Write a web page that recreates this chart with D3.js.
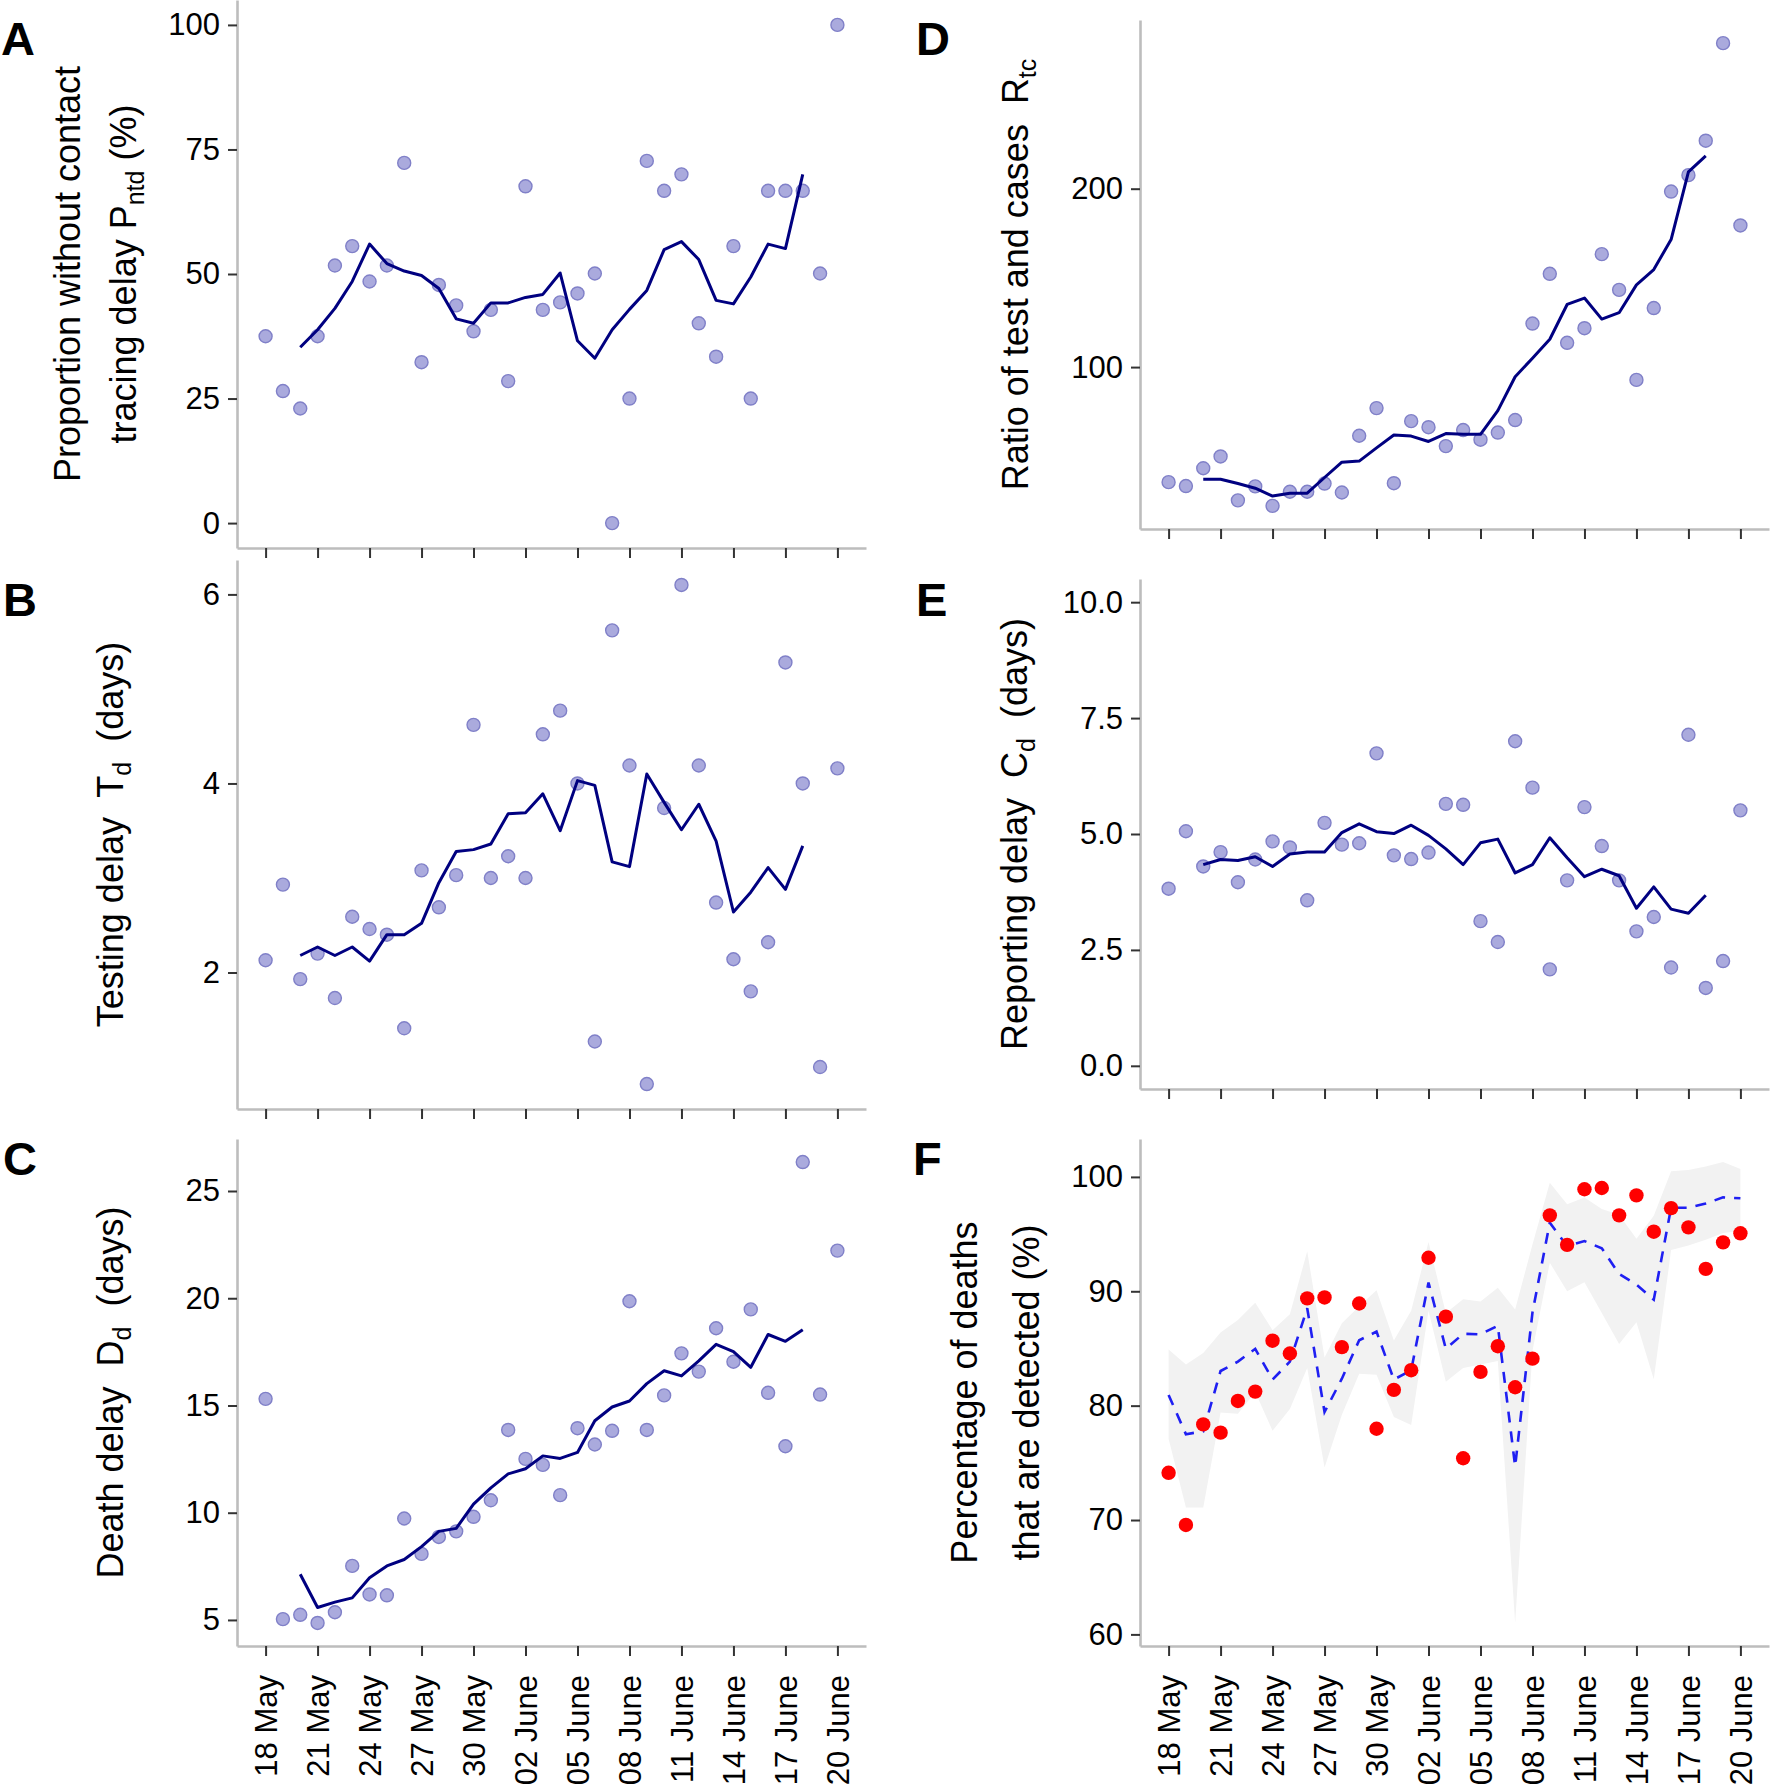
<!DOCTYPE html>
<html>
<head>
<meta charset="utf-8">
<script src="https://cdnjs.cloudflare.com/ajax/libs/d3/7.8.5/d3.min.js"></script>
<style>
body { margin: 0; background: #fff; }
text { font-family: "Liberation Sans", Arial, sans-serif; fill: #000; }
</style>
</head>
<body>
<svg id="fig" width="1770" height="1787"></svg>
<script>
// days shown on every panel, 18 May - 20 June
var days = d3.timeDay.range(new Date(2020, 4, 18), new Date(2020, 5, 21));
// the moving-average lines run 20 May - 18 June
var lineDays = days.slice(2, 32);
var tickDays = days.filter(function(d, i) { return i % 3 === 0; });

// A: proportion without contact tracing delay (%)
var pntdPts = [37.5, 26.5, 23.0, 37.5, 51.7, 55.6, 48.5, 51.7, 72.3, 32.3, 47.8, 43.7, 38.5, 42.8, 28.5, 67.6, 42.8,
    44.3, 46.1, 50.1, 0, 25.0, 72.7, 66.7, 70.0, 40.1, 33.4, 55.6, 25.0, 66.7, 66.7, 66.7, 50.1, 100];
var pntdLine = [35.3, 38.8, 43.1, 48.5, 56.0, 52.1, 50.6, 49.7, 47.1, 41.0, 40.1, 44.2, 44.2, 45.3, 45.9, 50.2, 36.6,
    33.1, 38.8, 42.9, 46.7, 54.9, 56.5, 52.9, 44.7, 44.0, 49.4, 56.0, 55.1, 70.0];
var pntdTicks = [0, 25, 50, 75, 100];

// B: testing delay (days)
var tdPts = [2.13, 2.93, 1.93, 2.20, 1.73, 2.59, 2.46, 2.40, 1.41, 3.08, 2.69, 3.03, 4.62, 3.00, 3.23, 3.00, 4.52,
    4.77, 4.00, 1.27, 5.62, 4.19, 0.82, 3.74, 6.10, 4.19, 2.74, 2.14, 1.80, 2.32, 5.28, 4.00, 1.00, 4.16];
var tdLine = [2.18, 2.27, 2.18, 2.27, 2.12, 2.40, 2.40, 2.52, 2.95, 3.28, 3.30, 3.36, 3.68, 3.69, 3.89, 3.50, 4.03,
    3.98, 3.17, 3.12, 4.10, 3.80, 3.51, 3.78, 3.39, 2.64, 2.85, 3.11, 2.88, 3.34];
var tdTicks = [2, 4, 6];

// C: death delay (days)
var ddPts = [15.31, 5.04, 5.24, 4.86, 5.36, 7.52, 6.19, 6.15, 9.73, 8.08, 8.87, 9.13, 9.81, 10.58, 13.86, 12.51, 12.23,
    10.82, 13.94, 13.18, 13.82, 19.86, 13.86, 15.47, 17.43, 16.58, 18.60, 17.04, 19.48, 15.59, 13.10, 26.35, 15.51, 22.22];
var ddLine = [7.13, 5.58, 5.83, 6.03, 6.97, 7.52, 7.82, 8.42, 9.13, 9.27, 10.40, 11.16, 11.81, 12.05, 12.65, 12.53,
    12.81, 14.29, 14.93, 15.21, 16.02, 16.62, 16.38, 17.08, 17.85, 17.51, 16.78, 18.31, 17.99, 18.53];
var ddTicks = [5, 10, 15, 20, 25];

// D: ratio of tests and cases
var rtcPts = [35.5, 33.3, 43.3, 49.9, 25.3, 33.1, 22.2, 30.1, 30.1, 34.7, 29.7, 61.5, 77.0, 34.9, 69.7, 66.3, 55.7,
    64.7, 59.3, 63.3, 70.3, 124.4, 152.3, 113.6, 121.8, 163.3, 143.3, 92.8, 133.1, 198.4, 207.6, 226.9, 281.6, 179.4];
var rtcLine = [37.1, 37.1, 34.7, 32.1, 27.7, 29.3, 29.3, 38.1, 46.7, 47.3, 54.7, 61.9, 61.3, 58.3, 62.7, 62.3, 62.3,
    75.6, 94.6, 105.0, 115.6, 135.1, 138.7, 126.9, 130.5, 146.1, 154.7, 171.5, 209.4, 218.4];
var rtcTicks = [100, 200];

// E: reporting delay (days)
var cdPts = [3.82, 5.06, 4.30, 4.61, 3.96, 4.45, 4.84, 4.71, 3.57, 5.24, 4.77, 4.80, 6.74, 4.54, 4.46, 4.60, 5.65,
    5.63, 3.12, 2.67, 7.00, 6.00, 2.08, 4.00, 5.58, 4.74, 4.00, 2.90, 3.21, 2.12, 7.14, 1.68, 2.26, 5.51];
var cdLine = [4.34, 4.45, 4.43, 4.51, 4.30, 4.57, 4.61, 4.61, 5.03, 5.22, 5.05, 5.01, 5.19, 4.97, 4.68, 4.34, 4.81,
    4.89, 4.16, 4.34, 4.92, 4.49, 4.08, 4.24, 4.10, 3.40, 3.86, 3.38, 3.29, 3.68];
var cdTicks = [0, 2.5, 5, 7.5, 10];

// F: percentage of deaths detected (%), points, fit and band
var detPts = [74.13, 69.57, 78.36, 77.64, 80.41, 81.23, 85.68, 84.56, 89.38, 89.46, 85.12, 88.93, 77.98, 81.38, 83.10,
    92.93, 87.78, 75.40, 82.95, 85.20, 81.61, 84.11, 96.64, 94.06, 98.92, 99.03, 96.64, 98.39, 95.21, 97.27, 95.59,
    91.96, 94.28, 95.07];
var detFit = [80.93, 77.50, 77.76, 83.03, 83.85, 84.97, 82.28, 83.85, 88.52, 79.44, 82.36, 85.72, 86.47, 82.28, 83.10,
    90.77, 84.97, 86.28, 86.24, 86.99, 74.69, 88.15, 96.00, 93.94, 94.39, 93.76, 91.51, 90.58, 89.27, 97.31, 97.31,
    97.68, 98.21, 98.13];
var detUpper = [84.9, 83.6, 84.6, 86.4, 87.5, 89.0, 86.6, 88.0, 93.5, 84.2, 87.2, 88.7, 90.1, 85.7, 88.3, 94.3, 88.1,
    89.3, 89.1, 90.3, 88.4, 94.1, 99.5, 97.6, 98.2, 97.2, 96.7, 94.6, 96.6, 100.5, 100.6, 100.9, 101.3, 100.7];
var detLower = [77.1, 71.1, 71.1, 79.4, 79.3, 81.2, 77.8, 79.7, 83.3, 74.6, 79.2, 82.8, 82.7, 79.0, 78.3, 88.3, 82.1,
    83.3, 83.6, 83.9, 61.0, 84.8, 92.5, 90.0, 90.8, 88.1, 85.4, 87.3, 82.3, 93.6, 94.0, 94.5, 95.1, 95.3];
var detTicks = [60, 70, 80, 90, 100];

var svg = d3.select("#fig");
var fmtDay = d3.timeFormat("%d %B");

// ggplot style 5% expansion
function expand(lo, hi) {
    var p = (hi - lo) * 0.05;
    return [lo - p, hi + p];
}

var xSpan = expand(+days[0], +days[days.length - 1]);

var panels = [
    {letter: "A", lx: 1, ly: 55, left: 237, right: 866, top: 0, bottom: 548,
        pts: pntdPts, line: pntdLine, ticks: pntdTicks, fmt: d3.format("d"),
        titleX: [80, 136], title: [[["Proportion without contact"]], [["tracing delay P"], ["ntd", 1], [" (%)"]]]},
    {letter: "B", lx: 3, ly: 616, left: 237, right: 866, top: 560, bottom: 1109,
        pts: tdPts, line: tdLine, ticks: tdTicks, fmt: d3.format("d"),
        titleX: [123], title: [[["Testing delay  T"], ["d", 1], ["  (days)"]]]},
    {letter: "C", lx: 3, ly: 1175, left: 237, right: 866, top: 1139, bottom: 1646,
        pts: ddPts, line: ddLine, ticks: ddTicks, fmt: d3.format("d"), xlabels: true,
        titleX: [123], title: [[["Death delay  D"], ["d", 1], ["  (days)"]]]},
    {letter: "D", lx: 916, ly: 55, left: 1140, right: 1769, top: 20, bottom: 529,
        pts: rtcPts, line: rtcLine, ticks: rtcTicks, fmt: d3.format("d"),
        titleX: [1028], title: [[["Ratio of test and cases  R"], ["tc", 1]]]},
    {letter: "E", lx: 916, ly: 616, left: 1140, right: 1769, top: 579, bottom: 1089,
        pts: cdPts, line: cdLine, ticks: cdTicks, fmt: d3.format(".1f"), limits: [0, 10],
        titleX: [1027], title: [[["Reporting delay  C"], ["d", 1], ["  (days)"]]]},
    {letter: "F", lx: 913, ly: 1175, left: 1140, right: 1769, top: 1139, bottom: 1646,
        pts: detPts, fit: detFit, upper: detUpper, lower: detLower, ticks: detTicks, fmt: d3.format("d"), xlabels: true,
        titleX: [977, 1039], title: [[["Percentage of deaths"]], [["that are detected (%)"]]]}
];

panels.forEach(function(p) {
    var x = d3.scaleTime().domain(xSpan).range([p.left, p.right]);

    var all = p.pts.concat(p.line || [], p.upper || [], p.lower || [], p.fit || []);
    var lim = p.limits || d3.extent(all);
    var y = d3.scaleLinear().domain(expand(lim[0], lim[1])).range([p.bottom, p.top]);

    var g = svg.append("g");

    // band + dashed fit (panel F)
    if (p.upper) {
        var area = d3.area()
            .x(function(d, i) { return x(days[i]); })
            .y0(function(d, i) { return y(p.lower[i]); })
            .y1(function(d) { return y(d); });
        g.append("path").attr("d", area(p.upper)).attr("fill", "#f2f2f2");

        var fitLine = d3.line()
            .x(function(d, i) { return x(days[i]); })
            .y(function(d) { return y(d); });
        g.append("path").attr("d", fitLine(p.fit))
            .attr("fill", "none").attr("stroke", "#1f1ff2").attr("stroke-width", 2.6)
            .attr("stroke-dasharray", "11,9");

        g.selectAll(".dot").data(p.pts).enter().append("circle")
            .attr("cx", function(d, i) { return x(days[i]); })
            .attr("cy", function(d) { return y(d); })
            .attr("r", 7.2)
            .attr("fill", "#ff0000");
    } else {
        g.selectAll(".dot").data(p.pts).enter().append("circle")
            .attr("cx", function(d, i) { return x(days[i]); })
            .attr("cy", function(d) { return y(d); })
            .attr("r", 6.5)
            .attr("fill", "#aaaadd")
            .attr("stroke", "#8080c8")
            .attr("stroke-width", 1.4);

        var avg = d3.line()
            .x(function(d, i) { return x(lineDays[i]); })
            .y(function(d) { return y(d); });
        g.append("path").attr("d", avg(p.line))
            .attr("fill", "none").attr("stroke", "#000080").attr("stroke-width", 3)
            .attr("stroke-linejoin", "round");
    }

    // axes
    var yAxis = d3.axisLeft(y).tickValues(p.ticks).tickFormat(p.fmt).tickSize(9).tickSizeOuter(0).tickPadding(8);
    var ya = g.append("g").attr("transform", "translate(" + p.left + ",0)").call(yAxis);

    var xAxis = d3.axisBottom(x).tickValues(tickDays).tickSize(10).tickSizeOuter(0)
        .tickFormat(p.xlabels ? fmtDay : "");
    var xa = g.append("g").attr("transform", "translate(0," + p.bottom + ")").call(xAxis);

    [ya, xa].forEach(function(a) {
        a.select(".domain").attr("stroke", "#bdbdbd").attr("stroke-width", 2.6);
        a.selectAll(".tick line").attr("stroke", "#333").attr("stroke-width", 2);
        a.selectAll(".tick text").style("font-size", "31px").attr("fill", "#111");
    });

    if (p.xlabels) {
        xa.selectAll(".tick text")
            .attr("transform", "rotate(-90)")
            .attr("x", -29).attr("y", 0).attr("dy", "0.35em")
            .style("text-anchor", "end");
    }

    // y title, rotated, one text per line
    var cy = (p.top + p.bottom) / 2;
    p.title.forEach(function(segs, k) {
        var t = svg.append("text")
            .attr("transform", "translate(" + p.titleX[k] + "," + cy + ") rotate(-90)")
            .attr("text-anchor", "middle")
            .style("font-size", "36px")
            .style("white-space", "pre");
        var shift = 0;
        segs.forEach(function(s) {
            var dy = s[1] ? 8 : 0;
            t.append("tspan").text(s[0])
                .attr("dy", dy - shift)
                .style("font-size", s[1] ? "25px" : "36px");
            shift = dy;
        });
    });

    svg.append("text").attr("x", p.lx).attr("y", p.ly)
        .text(p.letter)
        .style("font-size", "47px").style("font-weight", "bold");
});
</script>
</body>
</html>
